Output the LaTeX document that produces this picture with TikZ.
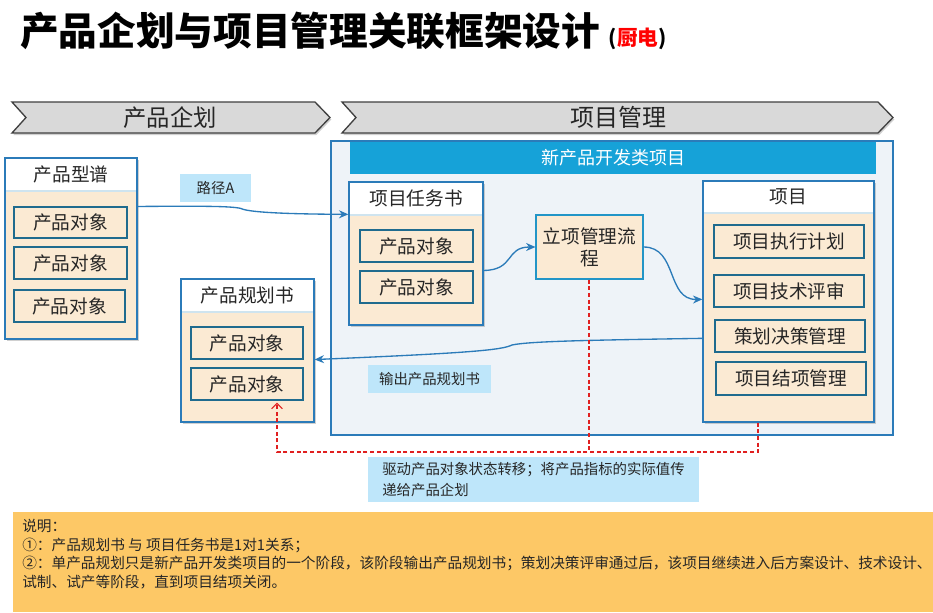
\documentclass[tikz,border=0pt]{standalone}
\usepackage{fontspec}
\setmainfont{Noto Sans CJK SC}
\usetikzlibrary{fit,shadows,arrows.meta,calc}
\definecolor{bord}{HTML}{2B7BB9}
\definecolor{itemb}{HTML}{1F6B8E}
\definecolor{beige}{HTML}{FBEAD3}
\definecolor{lblue}{HTML}{BEE6FA}
\definecolor{barc}{HTML}{16A2D8}
\definecolor{panelc}{HTML}{EEF3F8}
\definecolor{notec}{HTML}{FDC866}
\definecolor{chevc}{HTML}{D9D9D9}
\definecolor{hline}{HTML}{CFE4EF}
\definecolor{dred}{HTML}{E02020}
\newcommand\fsz[2]{\fontsize{#1pt}{#2pt}\selectfont}
\newcommand\mypanel[7]{%
  \node[outer, fit={(#2,#3)(#4,#5)}] (#1) {};
  \fill[white] (#2,#3) rectangle (#4,#6);
  \draw[hline, line width=1pt] (#2,#6) -- (#4,#6);
  \draw[bord, line width=1pt] (#2,#3) rectangle (#4,#5);
  \node[hdr] (#1h) at ({(#2+#4)/2},{(#3+#6)/2}) {#7};
}
% [text options]{box style}{name}{x1}{y1}{x2}{y2}{text}
\newcommand\bx[8][]{%
  \node[#2, fit={(#4,#5)(#6,#7)}] (#3) {};
  \node[inner sep=0pt, text=black!85, #1] (#3t) at (#3.center) {#8};
}
\tikzset{
  outer/.style={draw=bord, line width=1pt, fill=beige, inner sep=0pt,
    drop shadow={opacity=0.3, shadow xshift=1.5pt, shadow yshift=-1.5pt, fill=black!60}},
  item/.style={draw=itemb, line width=0.8pt, fill=beige, inner sep=0pt},
  itxt/.style={font=\fsz{14}{17}},
  hdr/.style={inner sep=0pt, text=black!85, font=\fsz{14}{17}},
  lab/.style={fill=lblue, inner sep=0pt},
  ltxt/.style={font=\fsz{10.8}{16}},
  arr/.style={draw=bord, line width=1pt, -{Stealth[length=7pt,width=6pt]}},
  rdash/.style={color=dred, draw=dred, line width=0.9pt, dash pattern=on 3pt off 2pt},
  chev/.style={fill=chevc, draw=black!75, line width=1pt,
    drop shadow={opacity=0.3, shadow xshift=1pt, shadow yshift=-1.5pt, fill=black!60}},
}
\begin{document}
\begin{tikzpicture}[x=0.75pt,y=-0.75pt]
\useasboundingbox[fill=white] (0,0) rectangle (933,612);

% title
\node[anchor=base west, font=\fsz{29}{34}\bfseries, inner sep=0pt] (title) at (20,45) {产品企划与项目管理关联框架设计};
\node[anchor=base west, font=\fsz{15.5}{18}\bfseries, inner sep=0pt] (sub) at ([xshift=6pt]title.base east) {(\textcolor{red}{厨电})};

% chevrons
\draw[chev] (12,102) -- (315,102) -- (330,117.5) -- (315,133) -- (12,133) -- (26,117.5) -- cycle;
\node[font=\fsz{17.5}{20}, text=black!85] (c1) at (170,117.5) {产品企划};
\draw[chev] (342,102) -- (878,102) -- (893,117.5) -- (878,133) -- (342,133) -- (356,117.5) -- cycle;
\node[font=\fsz{18}{20}, text=black!85] (c2) at (618,117.5) {项目管理};

% container
\node[draw=bord, line width=1pt, fill=panelc, inner sep=0pt, fit={(331,141)(893,435)}] (ct) {};
\bx[text=white, font=\fsz{13.5}{16}]{fill=barc, inner sep=0pt}{bar}{350}{142}{876}{174}{新产品开发类项目}

% panels
\mypanel{xp}{5}{158}{137}{339}{191}{产品型谱}
\bx[itxt]{item}{xi1}{14}{207}{127}{238}{产品对象}
\bx[itxt]{item}{xi2}{14}{247}{127}{279}{产品对象}
\bx[itxt]{item}{xi3}{14}{290}{125}{322}{产品对象}

\mypanel{rw}{349}{182}{483}{325}{215}{项目任务书}
\bx[itxt]{item}{ri1}{360}{230}{473}{262}{产品对象}
\bx[itxt]{item}{ri2}{360}{271}{473}{303}{产品对象}

\mypanel{gp}{181}{279}{314}{422}{312}{产品规划书}
\bx[itxt]{item}{gi1}{191}{327}{303}{359}{产品对象}
\bx[itxt]{item}{gi2}{191}{368}{303}{400}{产品对象}

\mypanel{pj}{703}{181}{874}{422}{213}{项目}
\bx[itxt]{item}{p1}{714}{225}{864}{258}{项目执行计划}
\bx[itxt]{item}{p2}{714}{275}{864}{307}{项目技术评审}
\bx[itxt]{item}{p3}{715}{320}{865}{352}{策划决策管理}
\bx[itxt]{item}{p4}{716}{362}{866}{395}{项目结项管理}

\bx[align=center, font=\fsz{14}{16.5}]{draw=bord!80!cyan, line width=0.8pt, fill=beige, inner sep=0pt}{lx}{536}{215}{643}{279}{立项管理流\\程}

% labels
\bx[ltxt]{lab}{la}{180}{174}{251}{202}{路径A}
\bx[ltxt]{lab}{lb}{368}{365}{491}{393}{输出产品规划书}
\bx[ltxt, align=left]{lab}{lc}{368}{457}{699}{502}{驱动产品对象状态转移；将产品指标的实际值传\\递给产品企划}

% connectors
\draw[arr] (xp.east |- xi1.north) .. controls (200,206) and (232,206) .. (241,208.5)
   .. controls (248,212) and (280,214) .. ($(rw.north west)+(0,33)$);
\draw[arr] (rw.east |- ri2.north) .. controls (515,270) and (505,247) .. (lx.west);
\draw[arr] (lx.east) .. controls (678,247) and (666,300) .. ($(pj.north west)+(0,119)$);
\draw[arr] ($(pj.north west)+(0,158)$) .. controls (600,340) and (530,341) .. (512,345)
   .. controls (502,350) and (470,353) .. (gp.east |- gi1.south);

% red dashed
\coordinate (d1) at (758,452);
\coordinate (d2) at (277,452);
\coordinate (d3) at ($(lx.south)+(-0.5,0)$);
\draw[rdash] (d3) -- (d3 |- d1);
\draw[rdash, -{Straight Barb[length=4pt,width=8pt]}] (pj.south -| d1) -- (d1) -- (d2) -- ($(gi2.south -| d2)+(0,2)$);

% note
\node[fill=notec, inner sep=0pt, fit={(13,512)(933,612)}] (nb) {};
\node[anchor=north west, align=left, font=\fsz{11}{13.9}, text=black!85, inner sep=0pt] (nt) at (22,519)
 {说明：\\①：产品规划书 与 项目任务书是1对1关系；\\②：单产品规划只是新产品开发类项目的一个阶段，该阶段输出产品规划书；策划决策评审通过后，该项目继续进入后方案设计、技术设计、\\试制、试产等阶段，直到项目结项关闭。};
\end{tikzpicture}
\end{document}
